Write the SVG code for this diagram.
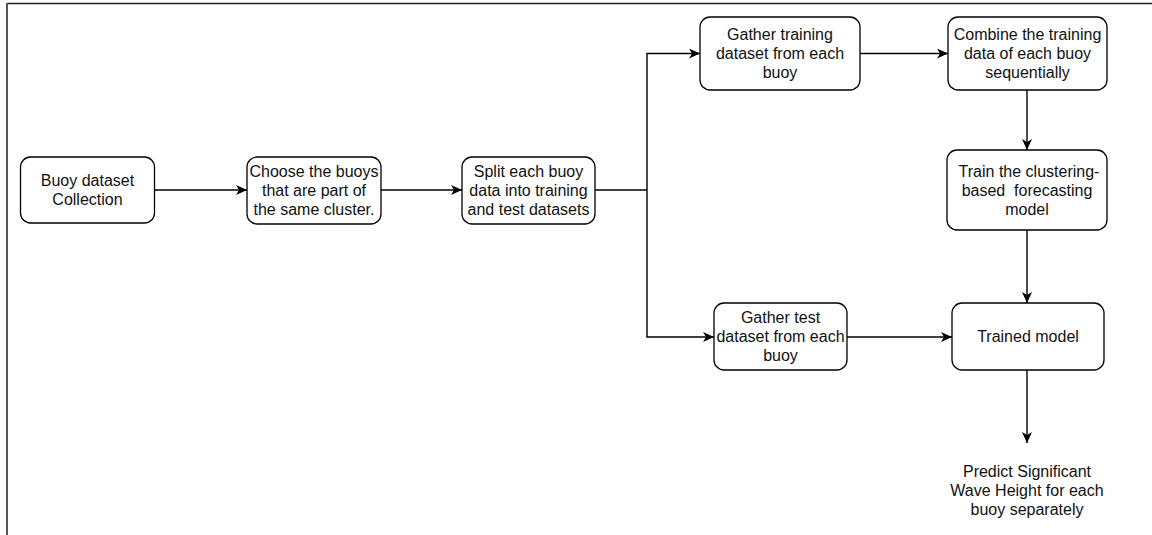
<svg xmlns="http://www.w3.org/2000/svg" width="1152" height="535" viewBox="0 0 1152 535">
<style>
.box{fill:#fff;stroke:#000;stroke-width:1.3}
.t{font-family:"Liberation Sans",Arial,sans-serif;font-size:16px;fill:#111;text-anchor:middle}
.c{fill:none;stroke:#000;stroke-width:1.4}
</style>
<defs>
<marker id="arr" markerUnits="userSpaceOnUse" markerWidth="12" markerHeight="10" refX="11" refY="5" orient="auto">
<path d="M0,0 L11,5 L0,10 L3,5 Z" fill="#000"/>
</marker>
</defs>
<rect width="1152" height="535" fill="#fff"/>
<g id="frame">
<line x1="7" y1="3.5" x2="1152" y2="3.5" stroke="#222" stroke-width="1.5"/>
<line x1="7" y1="3" x2="7" y2="535" stroke="#555" stroke-width="2"/>
</g>
<g id="connectors">
<line class="c" x1="155" y1="190" x2="247" y2="190" marker-end="url(#arr)"/>
<line class="c" x1="381" y1="190" x2="462" y2="190" marker-end="url(#arr)"/>
<polyline class="c" points="595,190 647,190"/>
<polyline class="c" points="647,190 647,53.5 700,53.5" marker-end="url(#arr)"/>
<polyline class="c" points="647,190 647,337 714,337" marker-end="url(#arr)"/>
<line class="c" x1="860" y1="53.5" x2="948" y2="53.5" marker-end="url(#arr)"/>
<line class="c" x1="1027" y1="90" x2="1027" y2="150" marker-end="url(#arr)"/>
<line class="c" x1="1027" y1="230" x2="1027" y2="303" marker-end="url(#arr)"/>
<line class="c" x1="847" y1="337" x2="952" y2="337" marker-end="url(#arr)"/>
<line class="c" x1="1027" y1="370" x2="1027" y2="443" marker-end="url(#arr)"/>
</g>
<g id="n1">
<rect class="box" x="20.5" y="157" width="134" height="66" rx="10"/>
<text class="t" x="87.5" y="186">Buoy dataset</text>
<text class="t" x="87.5" y="205">Collection</text>
</g>
<g id="n2">
<rect class="box" x="247" y="157" width="134" height="67" rx="10"/>
<text class="t" x="314" y="176.5">Choose the buoys</text>
<text class="t" x="314" y="195.5">that are part of</text>
<text class="t" x="314" y="214.5">the same cluster.</text>
</g>
<g id="n3">
<rect class="box" x="462" y="157" width="133" height="67" rx="10"/>
<text class="t" x="528.5" y="176.5">Split each buoy</text>
<text class="t" x="528.5" y="195.5">data into training</text>
<text class="t" x="528.5" y="214.5">and test datasets</text>
</g>
<g id="n4">
<rect class="box" x="700" y="17" width="160" height="73" rx="10"/>
<text class="t" x="780" y="40">Gather training</text>
<text class="t" x="780" y="59">dataset from each</text>
<text class="t" x="780" y="78">buoy</text>
</g>
<g id="n5">
<rect class="box" x="948" y="17" width="159" height="73" rx="10"/>
<text class="t" x="1027.5" y="40">Combine the training</text>
<text class="t" x="1027.5" y="59">data of each buoy</text>
<text class="t" x="1027.5" y="78">sequentially</text>
</g>
<g id="n6">
<rect class="box" x="947" y="150" width="160" height="80" rx="10"/>
<text class="t" x="1029" y="177">Train the clustering-</text>
<text class="t" x="1027" y="196" xml:space="preserve">based  forecasting</text>
<text class="t" x="1027" y="215">model</text>
</g>
<g id="n7">
<rect class="box" x="714" y="303" width="133" height="67" rx="10"/>
<text class="t" x="780.5" y="323">Gather test</text>
<text class="t" x="780.5" y="342">dataset from each</text>
<text class="t" x="780.5" y="361">buoy</text>
</g>
<g id="n8">
<rect class="box" x="952" y="303" width="152" height="67" rx="10"/>
<text class="t" x="1028" y="342">Trained model</text>
</g>
<g id="n9">
<text class="t" x="1027" y="477">Predict Significant</text>
<text class="t" x="1027" y="496">Wave Height for each</text>
<text class="t" x="1027" y="515">buoy separately</text>
</g>
</svg>
